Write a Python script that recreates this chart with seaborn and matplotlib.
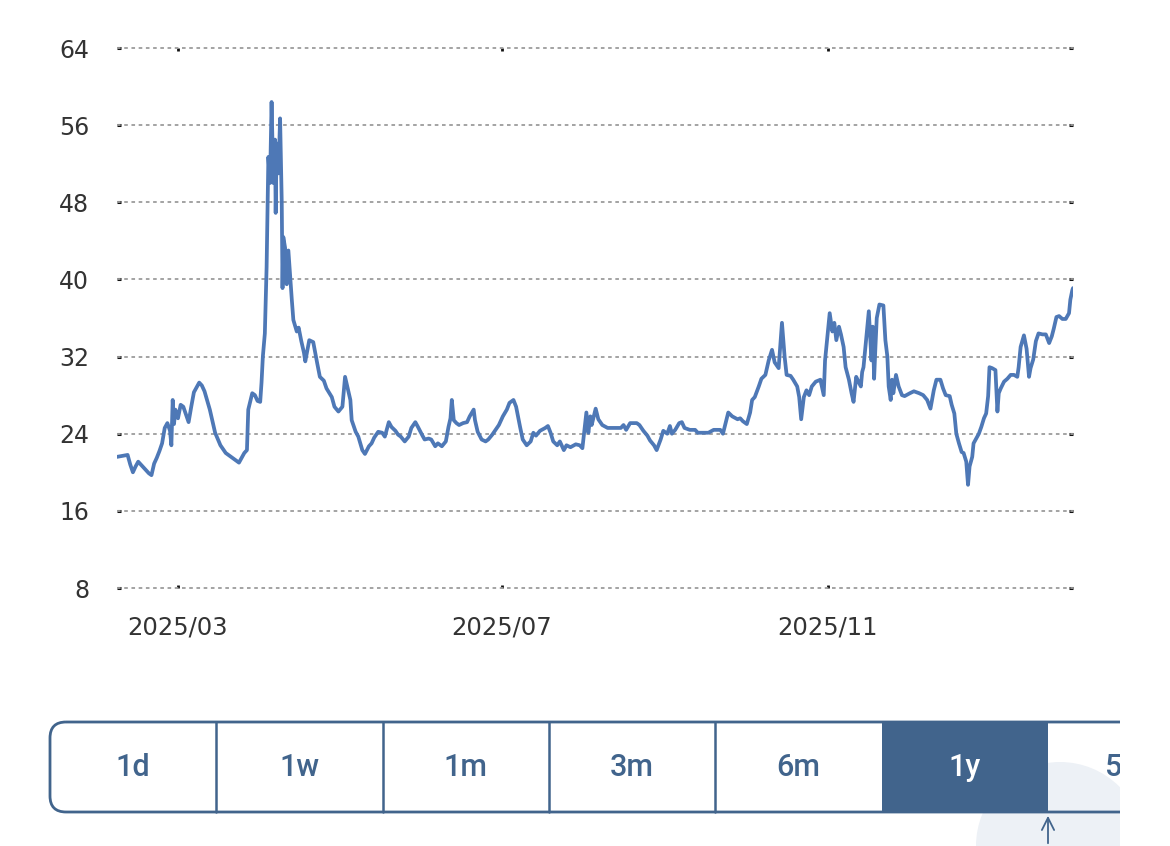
import numpy as np
import pandas as pd
import matplotlib
matplotlib.use("Agg")
import matplotlib.pyplot as plt
import seaborn as sns
from matplotlib.patches import FancyBboxPatch, Rectangle, Circle

# ---------------- data ----------------
dates = [
    "2025-02-06", "2025-02-08", "2025-02-10", "2025-02-11", "2025-02-12", "2025-02-13",
    "2025-02-14", "2025-02-16", "2025-02-18", "2025-02-19", "2025-02-20", "2025-02-21",
    "2025-02-22", "2025-02-23", "2025-02-24", "2025-02-25", "2025-02-26", "2025-02-26 12:00",
    "2025-02-27", "2025-02-27 12:00", "2025-02-28", "2025-03-01", "2025-03-02", "2025-03-03",
    "2025-03-04", "2025-03-05", "2025-03-06", "2025-03-07", "2025-03-09", "2025-03-10",
    "2025-03-11", "2025-03-13", "2025-03-15", "2025-03-17", "2025-03-19", "2025-03-21",
    "2025-03-23", "2025-03-24", "2025-03-25", "2025-03-26", "2025-03-27", "2025-03-27 12:00",
    "2025-03-29", "2025-03-30", "2025-03-31", "2025-04-01", "2025-04-01 12:00", "2025-04-02",
    "2025-04-02 18:00", "2025-04-03 10:00", "2025-04-04 02:00", "2025-04-04 17:00",
    "2025-04-05 07:00", "2025-04-05 23:00", "2025-04-06 14:00", "2025-04-06 20:00",
    "2025-04-07 05:00", "2025-04-07 21:00", "2025-04-08 12:00", "2025-04-09 03:00",
    "2025-04-09 10:00", "2025-04-09 17:00", "2025-04-10 09:00", "2025-04-11",
    "2025-04-11 15:00", "2025-04-12 07:00", "2025-04-12 22:00", "2025-04-13 12:00",
    "2025-04-14 19:00", "2025-04-15 12:00", "2025-04-16 12:00", "2025-04-17 12:00",
    "2025-04-18", "2025-04-19 12:00", "2025-04-21", "2025-04-22 12:00", "2025-04-23 12:00",
    "2025-04-25", "2025-04-26", "2025-04-28", "2025-04-29", "2025-04-30 12:00",
    "2025-05-02", "2025-05-03", "2025-05-03 12:00", "2025-05-05", "2025-05-05 12:00",
    "2025-05-07", "2025-05-08", "2025-05-09 12:00", "2025-05-10 12:00", "2025-05-12",
    "2025-05-13", "2025-05-14", "2025-05-15 12:00", "2025-05-17", "2025-05-18",
    "2025-05-19 12:00", "2025-05-20 12:00", "2025-05-22", "2025-05-23", "2025-05-24",
    "2025-05-25 12:00", "2025-05-27", "2025-05-28", "2025-05-29 12:00", "2025-05-30 12:00",
    "2025-06-01", "2025-06-02", "2025-06-03 12:00", "2025-06-04 12:00", "2025-06-06",
    "2025-06-07", "2025-06-08 12:00", "2025-06-10", "2025-06-11", "2025-06-11 18:00",
    "2025-06-12 06:00", "2025-06-13", "2025-06-14", "2025-06-15", "2025-06-16 12:00",
    "2025-06-18", "2025-06-19", "2025-06-20 12:00", "2025-06-21", "2025-06-22",
    "2025-06-23 12:00", "2025-06-25", "2025-06-26", "2025-06-27 12:00", "2025-06-28 12:00",
    "2025-06-30", "2025-07-01 12:00", "2025-07-03", "2025-07-04", "2025-07-05 12:00",
    "2025-07-06 12:00", "2025-07-08", "2025-07-09", "2025-07-10 12:00", "2025-07-12",
    "2025-07-13", "2025-07-14", "2025-07-15 12:00", "2025-07-17 12:00", "2025-07-18 12:00",
    "2025-07-19 12:00", "2025-07-20 12:00", "2025-07-22", "2025-07-23", "2025-07-24 12:00",
    "2025-07-25 12:00", "2025-07-27", "2025-07-29", "2025-07-30 12:00", "2025-07-31 12:00",
    "2025-08-01", "2025-08-02", "2025-08-02 18:00", "2025-08-03 12:00", "2025-08-04",
    "2025-08-05 12:00", "2025-08-06 12:00", "2025-08-08", "2025-08-10", "2025-08-12",
    "2025-08-15", "2025-08-16", "2025-08-17", "2025-08-18 12:00", "2025-08-21",
    "2025-08-22", "2025-08-23 12:00", "2025-08-25", "2025-08-26", "2025-08-27 12:00",
    "2025-08-28 12:00", "2025-08-30", "2025-08-31", "2025-09-01 12:00", "2025-09-02 12:00",
    "2025-09-03 06:00", "2025-09-04 12:00", "2025-09-06", "2025-09-07", "2025-09-08",
    "2025-09-10", "2025-09-12", "2025-09-13", "2025-09-17", "2025-09-19",
    "2025-09-21 12:00", "2025-09-22 12:00", "2025-09-23 12:00", "2025-09-24 12:00",
    "2025-09-26", "2025-09-28", "2025-09-29", "2025-09-30", "2025-10-01 12:00",
    "2025-10-02 18:00", "2025-10-03 12:00", "2025-10-04 12:00", "2025-10-06", "2025-10-07",
    "2025-10-08 12:00", "2025-10-09 18:00", "2025-10-11", "2025-10-12", "2025-10-13 12:00",
    "2025-10-14", "2025-10-14 18:00", "2025-10-15 18:00", "2025-10-16 12:00", "2025-10-18",
    "2025-10-19", "2025-10-20 12:00", "2025-10-21 06:00", "2025-10-22", "2025-10-23",
    "2025-10-24", "2025-10-25", "2025-10-26", "2025-10-27 12:00", "2025-10-29 06:00",
    "2025-10-30 12:00", "2025-10-31", "2025-10-31 18:00", "2025-11-01 18:00",
    "2025-11-02 18:00", "2025-11-03 12:00", "2025-11-04 06:00", "2025-11-05 06:00",
    "2025-11-06", "2025-11-07", "2025-11-07 18:00", "2025-11-09", "2025-11-10",
    "2025-11-10 18:00", "2025-11-11 18:00", "2025-11-12 18:00", "2025-11-13 12:00",
    "2025-11-14", "2025-11-14 12:00", "2025-11-15 12:00", "2025-11-16 12:00",
    "2025-11-17 12:00", "2025-11-18", "2025-11-18 12:00", "2025-11-19", "2025-11-19 12:00",
    "2025-11-20 12:00", "2025-11-22", "2025-11-22 18:00", "2025-11-23 12:00", "2025-11-24",
    "2025-11-24 18:00", "2025-11-25 06:00", "2025-11-25 18:00", "2025-11-26 18:00",
    "2025-11-27 18:00", "2025-11-29", "2025-11-30", "2025-12-02", "2025-12-03 12:00",
    "2025-12-05 12:00", "2025-12-07", "2025-12-08 12:00", "2025-12-09 18:00", "2025-12-11",
    "2025-12-12", "2025-12-13 12:00", "2025-12-14 12:00", "2025-12-15 12:00", "2025-12-17",
    "2025-12-17 18:00", "2025-12-18 18:00", "2025-12-19 12:00", "2025-12-20 12:00",
    "2025-12-21 12:00", "2025-12-22 06:00", "2025-12-23 06:00", "2025-12-23 22:00",
    "2025-12-24 12:00", "2025-12-25 12:00", "2025-12-26", "2025-12-27", "2025-12-28",
    "2025-12-28 22:00", "2025-12-29 22:00", "2025-12-30 18:00", "2025-12-31 12:00",
    "2026-01-01", "2026-01-02", "2026-01-03 06:00", "2026-01-04", "2026-01-04 12:00",
    "2026-01-05 06:00", "2026-01-06 12:00", "2026-01-07 18:00", "2026-01-09",
    "2026-01-10 06:00", "2026-01-11 12:00", "2026-01-12", "2026-01-12 18:00", "2026-01-14",
    "2026-01-15", "2026-01-15 22:00", "2026-01-16 12:00", "2026-01-17 12:00",
    "2026-01-18 12:00", "2026-01-19 12:00", "2026-01-21", "2026-01-22 06:00",
    "2026-01-23 12:00", "2026-01-24 12:00", "2026-01-25 06:00", "2026-01-26 06:00",
    "2026-01-27 06:00", "2026-01-28 12:00", "2026-01-29 18:00", "2026-01-31",
    "2026-01-31 12:00", "2026-02-01 06:00", "2026-02-01 12:00",
]
values = [
    21.6, 21.7, 21.8, 20.8, 20.0, 20.6,
    21.1, 20.5, 19.9, 19.7, 20.9, 21.5,
    22.2, 23.0, 24.6, 25.1, 24.3, 22.8,
    27.5, 25.0, 26.5, 25.6, 27.0, 26.8,
    26.0, 25.2, 26.8, 28.3, 29.3, 29.0,
    28.4, 26.5, 24.1, 22.8, 22.0, 21.6,
    21.2, 21.0, 21.5, 22.0, 22.3, 26.5,
    28.2, 28.0, 27.4, 27.3, 29.3, 32.0,
    34.4, 41.3, 52.7, 50.0,
    58.4, 50.0, 54.5, 46.9,
    54.1, 51.0, 56.7, 48.0,
    39.1, 44.4, 43.3, 39.5,
    43.0, 40.3, 37.9, 35.8,
    34.6, 35.0, 33.6, 32.4,
    31.5, 33.7, 33.5, 31.3, 29.9,
    29.5, 28.7, 27.8, 26.8, 26.3,
    26.8, 29.9, 29.3, 27.5, 25.4,
    24.2, 23.7, 22.3, 21.9, 22.7,
    23.0, 23.6, 24.2, 24.1, 23.7,
    25.2, 24.7, 24.3, 23.9, 23.7,
    23.2, 23.7, 24.6, 25.2, 24.7,
    23.9, 23.4, 23.5, 23.4, 22.7,
    23.0, 22.7, 23.2, 24.7, 25.6,
    27.5, 25.4, 25.1, 24.9, 25.1,
    25.2, 25.8, 26.5, 25.4, 24.2,
    23.4, 23.2, 23.4, 23.9, 24.3,
    24.9, 25.8, 26.5, 27.2, 27.5,
    26.8, 24.7, 23.4, 22.8, 23.2,
    24.1, 23.8, 24.3, 24.6, 24.8,
    24.1, 23.2, 22.8, 23.2, 22.3,
    22.8, 22.6, 22.9, 22.8, 22.5,
    23.7, 26.2, 24.1, 25.8, 24.9,
    26.6, 25.5, 24.9, 24.6, 24.6,
    24.6, 24.9, 24.4, 25.1, 25.1,
    24.9, 24.3, 23.8, 23.3, 22.8,
    22.3, 23.4, 24.3, 24.0, 24.8,
    24.0, 24.4, 25.1, 25.2, 24.6,
    24.4, 24.4, 24.1, 24.1, 24.4,
    24.4, 24.0, 25.1, 26.2,
    25.8, 25.5, 25.6, 25.3, 25.0,
    26.2, 27.5, 27.8, 28.9, 29.7,
    30.1, 31.6, 32.7, 31.4, 30.8,
    32.7, 35.5, 32.0, 30.1, 30.0,
    29.6, 28.9, 27.8, 25.5, 27.8,
    28.5, 28.0, 28.9, 29.4, 29.6,
    28.0, 31.6, 33.7, 36.5,
    34.6, 35.5, 33.7, 35.1,
    34.3, 33.0, 30.9, 29.6, 28.2,
    27.3, 29.9, 29.3, 28.9,
    30.4, 30.9, 33.8, 36.7,
    31.6, 35.1, 29.7, 33.0, 36.0,
    37.4, 37.3, 33.7, 32.0, 28.9,
    27.5, 29.6, 28.2, 30.1,
    28.9, 28.0, 27.9, 28.2, 28.4,
    28.2, 28.0, 27.5, 26.6, 28.5,
    29.6, 29.6, 28.7, 28.0, 27.9,
    27.0, 26.1, 24.0, 23.0,
    22.1, 22.0, 21.1, 18.7,
    20.6, 21.6, 23.0, 23.5, 24.0,
    24.7, 25.6, 26.1, 27.9,
    30.9, 30.8, 30.6, 26.3, 28.2,
    28.7, 29.4, 29.7, 30.1,
    30.1, 29.9, 30.9, 33.0, 34.2,
    32.8, 29.9, 30.8, 31.7,
    33.6, 34.4, 34.3, 34.3,
    33.4, 34.1, 34.9, 36.1,
    36.2, 35.9, 35.9, 36.5,
    37.9, 38.9, 39.1,
]
y_ticks = [8, 16, 24, 32, 40, 48, 56, 64]
x_tick_dates = ["2025-03-01", "2025-07-01", "2025-11-01"]
x_tick_labels = ["2025/03", "2025/07", "2025/11"]
buttons = ["1d", "1w", "1m", "3m", "6m", "1y", "5y"]
active_button = "1y"

# ---------------- style ----------------
sns.set_style("white")
plt.rcParams["font.family"] = ["DejaVu Sans"]

LINE = "#4e78b6"
GRID = "#9c9c9c"
TXT = "#333333"
BTN = "#41648c"

W, H = 1170, 846
fig = plt.figure(figsize=(W / 100, H / 100), dpi=100)
fig.patch.set_facecolor("white")

left, right, top, bottom = 117, 1073, 48, 588
ax = fig.add_axes([left / W, 1 - bottom / H, (right - left) / W, (bottom - top) / H])

df = pd.DataFrame({"date": pd.to_datetime(dates, format="ISO8601"), "value": values})
sns.lineplot(data=df, x="date", y="value", ax=ax, color=LINE, linewidth=2.7,
             estimator=None, zorder=3)

ax.set_ylim(8, 64)
ax.set_xlim(df["date"].iloc[0], df["date"].iloc[-1])
ax.set_yticks(y_ticks)
ax.set_yticklabels([str(v) for v in y_ticks])
xt = pd.to_datetime(x_tick_dates)
ax.set_xticks(xt)
ax.set_xticklabels(x_tick_labels)
ax.set_xlabel("")
ax.set_ylabel("")
for s in ax.spines.values():
    s.set_visible(False)
for v in y_ticks:
    ax.axhline(v, color=GRID, linewidth=1.3, linestyle=(0, (2, 2)), zorder=1, clip_on=False)

ax.tick_params(axis="y", which="both", direction="in", length=3, width=2.2,
               color="#111111", left=True, right=True, labelsize=17,
               labelcolor=TXT, pad=20)
ax.tick_params(axis="x", which="both", direction="in", length=2.5, width=2,
               color="#111111", bottom=True, top=True, labelsize=17.5,
               labelcolor=TXT, pad=20)
for lbl in ax.get_xticklabels():
    lbl.set_x(lbl.get_position()[0])

# ---------------- range selector ----------------
ax2 = fig.add_axes([0, 0, 1, 1], zorder=-1)
ax2.set_xlim(0, W)
ax2.set_ylim(H, 0)
ax2.axis("off")

bx0, by0, bh = 50, 722, 90
bw = 166.3
ax2.add_patch(FancyBboxPatch((bx0, by0), 1300, bh, boxstyle="round,pad=0,rounding_size=16",
                             fc="white", ec="none", zorder=1))
ax2.add_patch(Circle((1060, 846), 84, fc="#edf1f6", ec="none", zorder=2))

for i, lab in enumerate(buttons):
    cx = bx0 + bw * (i + 0.5)
    if lab == active_button:
        ax2.add_patch(Rectangle((bx0 + bw * i, by0), bw, bh, fc=BTN, ec="none", zorder=3))
        col = "white"
    else:
        col = BTN
    ax2.text(cx - (10 if i == len(buttons) - 1 else 0), by0 + bh / 2 + 1, lab,
             ha="center", va="center", fontsize=22, fontweight="medium",
             family=["Roboto", "DejaVu Sans"], color=col, zorder=5)
    if 0 < i < len(buttons) - 1 and buttons[i] != active_button:
        ax2.plot([bx0 + bw * i] * 2, [by0, by0 + bh], color=BTN, lw=1.8, zorder=4)

ax2.add_patch(FancyBboxPatch((bx0, by0), 1300, bh, boxstyle="round,pad=0,rounding_size=16",
                             fc="none", ec=BTN, lw=2.0, zorder=4))

ax2.annotate("", xy=(1048, 813), xytext=(1048, 846),
             arrowprops=dict(arrowstyle="->", color=BTN, lw=1.3, mutation_scale=22),
             zorder=6)

# the control is cut off at the right edge of the view
ax2.add_patch(Rectangle((1120, 0), 80, H, fc="white", ec="none", zorder=20))

fig.savefig("out.png", dpi=100, facecolor="white")
